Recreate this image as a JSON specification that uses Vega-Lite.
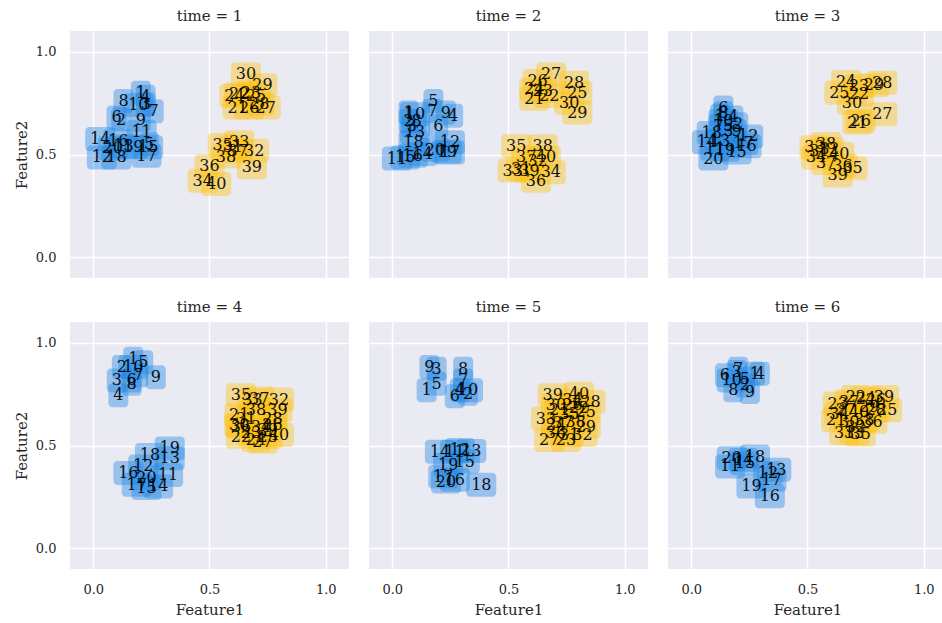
{
  "$schema": "https://vega.github.io/schema/vega-lite/v6.json",
  "padding": {"left": 14, "top": 9, "right": 0, "bottom": 5},
  "background": "white",
  "data": {"values": [
    {"t":1,"id":1,"f1":0.205,"f2":0.80},{"t":1,"id":2,"f1":0.12,"f2":0.67},{"t":1,"id":3,"f1":0.226,"f2":0.744},{"t":1,"id":4,"f1":0.225,"f2":0.78},{"t":1,"id":5,"f1":0.24,"f2":0.55},
    {"t":1,"id":6,"f1":0.10,"f2":0.68},{"t":1,"id":7,"f1":0.26,"f2":0.71},{"t":1,"id":8,"f1":0.13,"f2":0.76},{"t":1,"id":9,"f1":0.205,"f2":0.668},{"t":1,"id":10,"f1":0.194,"f2":0.74},
    {"t":1,"id":11,"f1":0.208,"f2":0.61},{"t":1,"id":12,"f1":0.037,"f2":0.486},{"t":1,"id":13,"f1":0.13,"f2":0.54},{"t":1,"id":14,"f1":0.03,"f2":0.575},{"t":1,"id":15,"f1":0.236,"f2":0.535},
    {"t":1,"id":16,"f1":0.108,"f2":0.567},{"t":1,"id":17,"f1":0.229,"f2":0.494},{"t":1,"id":18,"f1":0.10,"f2":0.486},{"t":1,"id":19,"f1":0.172,"f2":0.535},{"t":1,"id":20,"f1":0.084,"f2":0.53},
    {"t":1,"id":21,"f1":0.621,"f2":0.728},{"t":1,"id":22,"f1":0.628,"f2":0.792},{"t":1,"id":23,"f1":0.678,"f2":0.80},{"t":1,"id":24,"f1":0.607,"f2":0.784},{"t":1,"id":25,"f1":0.70,"f2":0.784},
    {"t":1,"id":26,"f1":0.671,"f2":0.728},{"t":1,"id":27,"f1":0.742,"f2":0.728},{"t":1,"id":28,"f1":0.714,"f2":0.747},{"t":1,"id":29,"f1":0.728,"f2":0.836},{"t":1,"id":30,"f1":0.657,"f2":0.889},
    {"t":1,"id":31,"f1":0.60,"f2":0.535},{"t":1,"id":32,"f1":0.692,"f2":0.518},{"t":1,"id":33,"f1":0.628,"f2":0.559},{"t":1,"id":34,"f1":0.471,"f2":0.373},{"t":1,"id":35,"f1":0.557,"f2":0.546},
    {"t":1,"id":36,"f1":0.50,"f2":0.443},{"t":1,"id":37,"f1":0.621,"f2":0.518},{"t":1,"id":38,"f1":0.571,"f2":0.49},{"t":1,"id":39,"f1":0.682,"f2":0.438},{"t":1,"id":40,"f1":0.529,"f2":0.357},

    {"t":2,"id":1,"f1":0.07,"f2":0.704},{"t":2,"id":2,"f1":0.07,"f2":0.663},{"t":2,"id":3,"f1":0.084,"f2":0.639},{"t":2,"id":4,"f1":0.262,"f2":0.688},{"t":2,"id":5,"f1":0.177,"f2":0.76},
    {"t":2,"id":6,"f1":0.198,"f2":0.639},{"t":2,"id":7,"f1":0.172,"f2":0.712},{"t":2,"id":8,"f1":0.105,"f2":0.663},{"t":2,"id":9,"f1":0.231,"f2":0.704},{"t":2,"id":10,"f1":0.098,"f2":0.696},
    {"t":2,"id":11,"f1":0.02,"f2":0.48},{"t":2,"id":12,"f1":0.248,"f2":0.559},{"t":2,"id":13,"f1":0.098,"f2":0.607},{"t":2,"id":14,"f1":0.131,"f2":0.502},{"t":2,"id":15,"f1":0.056,"f2":0.486},
    {"t":2,"id":16,"f1":0.088,"f2":0.494},{"t":2,"id":17,"f1":0.248,"f2":0.51},{"t":2,"id":18,"f1":0.091,"f2":0.559},{"t":2,"id":19,"f1":0.234,"f2":0.514},{"t":2,"id":20,"f1":0.184,"f2":0.523},
    {"t":2,"id":21,"f1":0.611,"f2":0.771},{"t":2,"id":22,"f1":0.675,"f2":0.784},{"t":2,"id":23,"f1":0.647,"f2":0.808},{"t":2,"id":24,"f1":0.611,"f2":0.816},{"t":2,"id":25,"f1":0.796,"f2":0.80},
    {"t":2,"id":26,"f1":0.625,"f2":0.857},{"t":2,"id":27,"f1":0.683,"f2":0.889},{"t":2,"id":28,"f1":0.782,"f2":0.849},{"t":2,"id":29,"f1":0.796,"f2":0.704},{"t":2,"id":30,"f1":0.761,"f2":0.752},
    {"t":2,"id":31,"f1":0.554,"f2":0.43},{"t":2,"id":32,"f1":0.625,"f2":0.47},{"t":2,"id":33,"f1":0.518,"f2":0.422},{"t":2,"id":34,"f1":0.682,"f2":0.414},{"t":2,"id":35,"f1":0.533,"f2":0.54},
    {"t":2,"id":36,"f1":0.618,"f2":0.373},{"t":2,"id":37,"f1":0.576,"f2":0.486},{"t":2,"id":38,"f1":0.647,"f2":0.54},{"t":2,"id":39,"f1":0.59,"f2":0.422},{"t":2,"id":40,"f1":0.661,"f2":0.486},

    {"t":3,"id":1,"f1":0.124,"f2":0.688},{"t":3,"id":2,"f1":0.202,"f2":0.647},{"t":3,"id":3,"f1":0.16,"f2":0.615},{"t":3,"id":4,"f1":0.181,"f2":0.68},{"t":3,"id":5,"f1":0.16,"f2":0.639},
    {"t":3,"id":6,"f1":0.138,"f2":0.728},{"t":3,"id":7,"f1":0.117,"f2":0.639},{"t":3,"id":8,"f1":0.138,"f2":0.70},{"t":3,"id":9,"f1":0.195,"f2":0.615},{"t":3,"id":10,"f1":0.138,"f2":0.663},
    {"t":3,"id":11,"f1":0.103,"f2":0.527},{"t":3,"id":12,"f1":0.245,"f2":0.588},{"t":3,"id":13,"f1":0.124,"f2":0.567},{"t":3,"id":14,"f1":0.067,"f2":0.559},{"t":3,"id":15,"f1":0.195,"f2":0.51},
    {"t":3,"id":16,"f1":0.238,"f2":0.54},{"t":3,"id":17,"f1":0.224,"f2":0.556},{"t":3,"id":18,"f1":0.088,"f2":0.604},{"t":3,"id":19,"f1":0.145,"f2":0.523},{"t":3,"id":20,"f1":0.095,"f2":0.48},
    {"t":3,"id":21,"f1":0.715,"f2":0.655},{"t":3,"id":22,"f1":0.722,"f2":0.792},{"t":3,"id":23,"f1":0.722,"f2":0.832},{"t":3,"id":24,"f1":0.666,"f2":0.852},{"t":3,"id":25,"f1":0.637,"f2":0.80},
    {"t":3,"id":26,"f1":0.729,"f2":0.663},{"t":3,"id":27,"f1":0.822,"f2":0.696},{"t":3,"id":28,"f1":0.822,"f2":0.849},{"t":3,"id":29,"f1":0.786,"f2":0.836},{"t":3,"id":30,"f1":0.691,"f2":0.752},
    {"t":3,"id":31,"f1":0.551,"f2":0.518},{"t":3,"id":32,"f1":0.594,"f2":0.527},{"t":3,"id":33,"f1":0.53,"f2":0.535},{"t":3,"id":34,"f1":0.537,"f2":0.486},{"t":3,"id":35,"f1":0.694,"f2":0.433},
    {"t":3,"id":36,"f1":0.651,"f2":0.446},{"t":3,"id":37,"f1":0.58,"f2":0.459},{"t":3,"id":38,"f1":0.58,"f2":0.551},{"t":3,"id":39,"f1":0.63,"f2":0.398},{"t":3,"id":40,"f1":0.637,"f2":0.502},

    {"t":4,"id":1,"f1":0.172,"f2":0.921},{"t":4,"id":2,"f1":0.123,"f2":0.881},{"t":4,"id":3,"f1":0.101,"f2":0.816},{"t":4,"id":4,"f1":0.108,"f2":0.744},{"t":4,"id":5,"f1":0.215,"f2":0.905},
    {"t":4,"id":6,"f1":0.165,"f2":0.816},{"t":4,"id":7,"f1":0.194,"f2":0.841},{"t":4,"id":8,"f1":0.165,"f2":0.80},{"t":4,"id":9,"f1":0.269,"f2":0.832},{"t":4,"id":10,"f1":0.172,"f2":0.881},
    {"t":4,"id":11,"f1":0.322,"f2":0.357},{"t":4,"id":12,"f1":0.215,"f2":0.398},{"t":4,"id":13,"f1":0.329,"f2":0.438},{"t":4,"id":14,"f1":0.279,"f2":0.301},{"t":4,"id":15,"f1":0.229,"f2":0.293},
    {"t":4,"id":16,"f1":0.151,"f2":0.366},{"t":4,"id":17,"f1":0.187,"f2":0.309},{"t":4,"id":18,"f1":0.244,"f2":0.454},{"t":4,"id":19,"f1":0.329,"f2":0.486},{"t":4,"id":20,"f1":0.229,"f2":0.341},
    {"t":4,"id":21,"f1":0.628,"f2":0.647},{"t":4,"id":22,"f1":0.635,"f2":0.543},{"t":4,"id":23,"f1":0.678,"f2":0.559},{"t":4,"id":24,"f1":0.70,"f2":0.527},{"t":4,"id":25,"f1":0.75,"f2":0.543},
    {"t":4,"id":26,"f1":0.771,"f2":0.599},{"t":4,"id":27,"f1":0.728,"f2":0.518},{"t":4,"id":28,"f1":0.771,"f2":0.631},{"t":4,"id":29,"f1":0.75,"f2":0.575},{"t":4,"id":30,"f1":0.628,"f2":0.599},
    {"t":4,"id":31,"f1":0.657,"f2":0.631},{"t":4,"id":32,"f1":0.799,"f2":0.723},{"t":4,"id":33,"f1":0.685,"f2":0.72},{"t":4,"id":34,"f1":0.721,"f2":0.591},{"t":4,"id":35,"f1":0.635,"f2":0.744},
    {"t":4,"id":36,"f1":0.635,"f2":0.591},{"t":4,"id":37,"f1":0.714,"f2":0.728},{"t":4,"id":38,"f1":0.70,"f2":0.671},{"t":4,"id":39,"f1":0.792,"f2":0.671},{"t":4,"id":40,"f1":0.799,"f2":0.551},

    {"t":5,"id":1,"f1":0.148,"f2":0.768},{"t":5,"id":2,"f1":0.326,"f2":0.752},{"t":5,"id":3,"f1":0.191,"f2":0.873},{"t":5,"id":4,"f1":0.291,"f2":0.768},{"t":5,"id":5,"f1":0.191,"f2":0.80},
    {"t":5,"id":6,"f1":0.269,"f2":0.739},{"t":5,"id":7,"f1":0.305,"f2":0.816},{"t":5,"id":8,"f1":0.305,"f2":0.873},{"t":5,"id":9,"f1":0.16,"f2":0.881},{"t":5,"id":10,"f1":0.326,"f2":0.768},
    {"t":5,"id":11,"f1":0.269,"f2":0.47},{"t":5,"id":12,"f1":0.291,"f2":0.478},{"t":5,"id":13,"f1":0.34,"f2":0.473},{"t":5,"id":14,"f1":0.205,"f2":0.47},{"t":5,"id":15,"f1":0.312,"f2":0.422},
    {"t":5,"id":16,"f1":0.269,"f2":0.333},{"t":5,"id":17,"f1":0.219,"f2":0.349},{"t":5,"id":18,"f1":0.383,"f2":0.309},{"t":5,"id":19,"f1":0.241,"f2":0.406},{"t":5,"id":20,"f1":0.231,"f2":0.325},
    {"t":5,"id":21,"f1":0.718,"f2":0.671},{"t":5,"id":22,"f1":0.803,"f2":0.68},{"t":5,"id":23,"f1":0.747,"f2":0.527},{"t":5,"id":24,"f1":0.704,"f2":0.599},{"t":5,"id":25,"f1":0.832,"f2":0.663},
    {"t":5,"id":26,"f1":0.775,"f2":0.696},{"t":5,"id":27,"f1":0.675,"f2":0.527},{"t":5,"id":28,"f1":0.853,"f2":0.712},{"t":5,"id":29,"f1":0.832,"f2":0.591},{"t":5,"id":30,"f1":0.704,"f2":0.696},
    {"t":5,"id":31,"f1":0.761,"f2":0.551},{"t":5,"id":32,"f1":0.818,"f2":0.551},{"t":5,"id":33,"f1":0.661,"f2":0.631},{"t":5,"id":34,"f1":0.775,"f2":0.72},{"t":5,"id":35,"f1":0.761,"f2":0.655},
    {"t":5,"id":36,"f1":0.704,"f2":0.559},{"t":5,"id":37,"f1":0.732,"f2":0.607},{"t":5,"id":38,"f1":0.789,"f2":0.615},{"t":5,"id":39,"f1":0.69,"f2":0.744},{"t":5,"id":40,"f1":0.803,"f2":0.752},

    {"t":6,"id":1,"f1":0.274,"f2":0.849},{"t":6,"id":2,"f1":0.231,"f2":0.792},{"t":6,"id":3,"f1":0.195,"f2":0.857},{"t":6,"id":4,"f1":0.295,"f2":0.849},{"t":6,"id":5,"f1":0.231,"f2":0.825},
    {"t":6,"id":6,"f1":0.145,"f2":0.841},{"t":6,"id":7,"f1":0.202,"f2":0.873},{"t":6,"id":8,"f1":0.181,"f2":0.768},{"t":6,"id":9,"f1":0.252,"f2":0.76},{"t":6,"id":10,"f1":0.174,"f2":0.816},
    {"t":6,"id":11,"f1":0.167,"f2":0.398},{"t":6,"id":12,"f1":0.33,"f2":0.366},{"t":6,"id":13,"f1":0.366,"f2":0.382},{"t":6,"id":14,"f1":0.224,"f2":0.43},{"t":6,"id":15,"f1":0.231,"f2":0.414},
    {"t":6,"id":16,"f1":0.338,"f2":0.253},{"t":6,"id":17,"f1":0.345,"f2":0.333},{"t":6,"id":18,"f1":0.274,"f2":0.446},{"t":6,"id":19,"f1":0.259,"f2":0.301},{"t":6,"id":20,"f1":0.174,"f2":0.438},
    {"t":6,"id":21,"f1":0.623,"f2":0.623},{"t":6,"id":22,"f1":0.708,"f2":0.736},{"t":6,"id":23,"f1":0.63,"f2":0.704},{"t":6,"id":24,"f1":0.751,"f2":0.728},{"t":6,"id":25,"f1":0.843,"f2":0.671},
    {"t":6,"id":26,"f1":0.794,"f2":0.72},{"t":6,"id":27,"f1":0.665,"f2":0.671},{"t":6,"id":28,"f1":0.794,"f2":0.671},{"t":6,"id":29,"f1":0.765,"f2":0.688},{"t":6,"id":30,"f1":0.679,"f2":0.615},
    {"t":6,"id":31,"f1":0.658,"f2":0.559},{"t":6,"id":32,"f1":0.708,"f2":0.591},{"t":6,"id":33,"f1":0.701,"f2":0.559},{"t":6,"id":34,"f1":0.637,"f2":0.655},{"t":6,"id":35,"f1":0.729,"f2":0.554},
    {"t":6,"id":36,"f1":0.779,"f2":0.615},{"t":6,"id":37,"f1":0.679,"f2":0.712},{"t":6,"id":38,"f1":0.744,"f2":0.623},{"t":6,"id":39,"f1":0.829,"f2":0.736},{"t":6,"id":40,"f1":0.722,"f2":0.663}
  ]},
  "facet": {
    "field": "t", "type": "ordinal", "title": null,
    "header": {"title": null, "labelExpr": "'time = ' + datum.value", "labelFont": "DejaVu Serif", "labelFontSize": 15, "labelColor": "#262626", "labelPadding": 7}
  },
  "columns": 3,
  "spacing": {"row": 22, "column": 20},
  "spec": {
    "width": 279,
    "height": 247,
    "encoding": {
      "x": {"field": "f1", "type": "quantitative", "scale": {"domain": [-0.1, 1.1], "nice": false, "zero": false}, "axis": {"values": [0, 0.5, 1], "format": ".1f", "title": "Feature1"}},
      "y": {"field": "f2", "type": "quantitative", "scale": {"domain": [-0.1, 1.1], "nice": false, "zero": false}, "axis": {"values": [0, 0.5, 1], "format": ".1f", "title": "Feature2"}}
    },
    "layer": [
      {
        "transform": [{"filter": "datum.id < 10"}],
        "mark": {"type": "rect", "width": 20, "height": 24, "cornerRadius": 4, "fillOpacity": 0.4, "strokeOpacity": 0.25, "strokeWidth": 1},
        "encoding": {
          "color": {"condition": {"test": "datum.id <= 20", "value": "#1E88E5"}, "value": "#FFC107"}
        }
      },
      {
        "transform": [{"filter": "datum.id >= 10"}],
        "mark": {"type": "rect", "width": 30, "height": 24, "cornerRadius": 4, "fillOpacity": 0.4, "strokeOpacity": 0.25, "strokeWidth": 1},
        "encoding": {
          "color": {"condition": {"test": "datum.id <= 20", "value": "#1E88E5"}, "value": "#FFC107"}
        }
      },
      {
        "mark": {"type": "text", "fontSize": 16, "font": "DejaVu Serif", "color": "#000000", "align": "center", "baseline": "middle", "opacity": 0.9},
        "encoding": {"text": {"field": "id", "type": "nominal"}}
      }
    ]
  },
  "config": {
    "font": "DejaVu Serif",
    "view": {"fill": "#EAEAF2", "stroke": null},
    "header": {"labelExpr": "'time = ' + datum.value", "labelFont": "DejaVu Serif", "labelFontSize": 15, "labelColor": "#262626", "labelPadding": 7, "title": null},
    "headerFacet": {"labelExpr": "'time = ' + datum.value", "labelFont": "DejaVu Serif", "labelFontSize": 15, "labelColor": "#262626", "labelPadding": 7},
    "headerColumn": {"labelExpr": "'time = ' + datum.value", "labelFont": "DejaVu Serif", "labelFontSize": 15, "labelColor": "#262626", "labelPadding": 7},
    "axis": {
      "grid": true, "gridColor": "#FFFFFF", "gridWidth": 1.5, "gridOpacity": 1,
      "domain": false, "ticks": false,
      "labelFont": "DejaVu Serif", "labelFontSize": 13, "labelColor": "#262626", "labelPadding": 14,
      "titleFont": "DejaVu Serif", "titleFontSize": 15, "titleColor": "#262626", "titleFontWeight": "normal", "titlePadding": 6
    }
  }
}
